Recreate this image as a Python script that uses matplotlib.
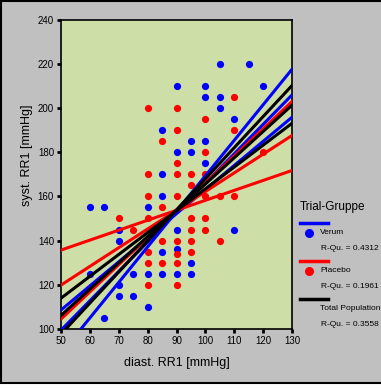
import matplotlib
matplotlib.use("Agg")
import matplotlib.pyplot as plt
from matplotlib.patches import Rectangle
import numpy as np

plt.rcParams['font.family'] = ['Liberation Sans', 'DejaVu Sans']

# scatter data (diast., syst.)
verum_x = [60, 65, 80, 85, 60, 65, 70, 70, 70, 70, 75, 75, 80, 85, 90, 95, 80, 85, 90, 95,
           90, 110, 85, 90, 95, 95, 100, 85, 90, 100, 120, 100, 105, 105, 110, 100, 105, 115]
verum_y = [155, 155, 155, 160, 125, 105, 145, 140, 120, 115, 115, 125, 125, 125, 125, 125, 110, 135, 136, 130,
           145, 145, 170, 180, 180, 185, 185, 190, 210, 210, 210, 205, 205, 200, 195, 175, 220, 220]
placebo_x = [70, 80, 75, 80, 90, 85, 80, 90, 95, 100, 90, 85, 80, 90, 90, 110, 100, 110, 100, 120,
             95, 105, 110, 100, 95, 100, 95, 100, 90, 95, 105, 85, 90, 95, 80, 90, 85, 80, 90, 80]
placebo_y = [150, 150, 145, 160, 160, 155, 170, 170, 170, 170, 175, 185, 200, 200, 190, 205, 195, 190, 180, 180,
             165, 160, 160, 160, 150, 150, 145, 145, 140, 140, 140, 140, 134, 135, 135, 130, 130, 130, 120, 120]

# regression lines: mean point and slopes (lower, fit, upper)
groups = ["Verum", "Placebo", "Total Population"]
colors = ["#0000ff", "#ff0000", "#000000"]
r_qu = ["0.4312", "0.1961", "0.3558"]
mean_x = [88, 90, 89]
mean_y = [150, 153.7, 152.5]
slopes = [[1.09, 1.33, 1.607], [0.45, 0.846, 1.23], [0.989, 1.189, 1.406]]

W, H = 381, 389
fig = plt.figure(figsize=(W / 100, H / 100), dpi=100, facecolor="white")
fig.patches.append(Rectangle((0.5 / W, 6 / H), 1.1, 1 - 6 / H - 1 / H, transform=fig.transFigure,
                             facecolor="#c0c0c0", edgecolor="black", lw=1.5, zorder=-10))

ax = fig.add_axes([61 / W, 1 - 329 / H, (292 - 61) / W, (329 - 19.5) / H])
ax.set_facecolor("#cddfa6")

ax.scatter(verum_x, verum_y, s=27, color=colors[0], zorder=2, linewidths=0)
ax.scatter(placebo_x, placebo_y, s=27, color=colors[1], zorder=2, linewidths=0)

xs = np.array([50, 130])
for i in range(3):
    for s in slopes[i]:
        ax.plot(xs, mean_y[i] + s * (xs - mean_x[i]), color=colors[i], lw=2.2, zorder=3)

ax.set_xlim(50, 130)
ax.set_ylim(100, 240)
ax.set_xticks(range(50, 131, 10))
ax.set_yticks(range(100, 241, 20))
ax.tick_params(direction="out", length=3, width=2, labelsize=7, pad=2)
for sp in ax.spines.values():
    sp.set_linewidth(1.2)

fig.text(176.5 / W, 1 - 363 / H, "diast. RR1 [mmHg]", ha="center", va="center", fontsize=9)
fig.text(27 / W, 1 - 155 / H, "syst. RR1 [mmHg]", ha="center", va="center", fontsize=9, rotation=90)

# legend drawn by hand
fig.text(300 / W, 1 - 207 / H, "Trial-Gruppe", ha="left", va="center", fontsize=8.5)
line_y = [223, 261, 299]
for i in range(3):
    y0 = line_y[i]
    fig.add_artist(plt.Line2D([300 / W, 328 / W], [1 - y0 / H, 1 - y0 / H], color=colors[i], lw=2.5))
    if i < 2:
        fig.add_artist(plt.Line2D([309 / W], [1 - (y0 + 10) / H], marker="o", ms=5.5, color=colors[i], lw=0))
    fig.text(320 / W, 1 - (y0 + 10) / H, groups[i], ha="left", va="center", fontsize=6)
    fig.text(321 / W, 1 - (y0 + 25) / H, "R-Qu. = " + r_qu[i], ha="left", va="center", fontsize=6)

fig.savefig("out.png", dpi=100, facecolor=fig.get_facecolor())
